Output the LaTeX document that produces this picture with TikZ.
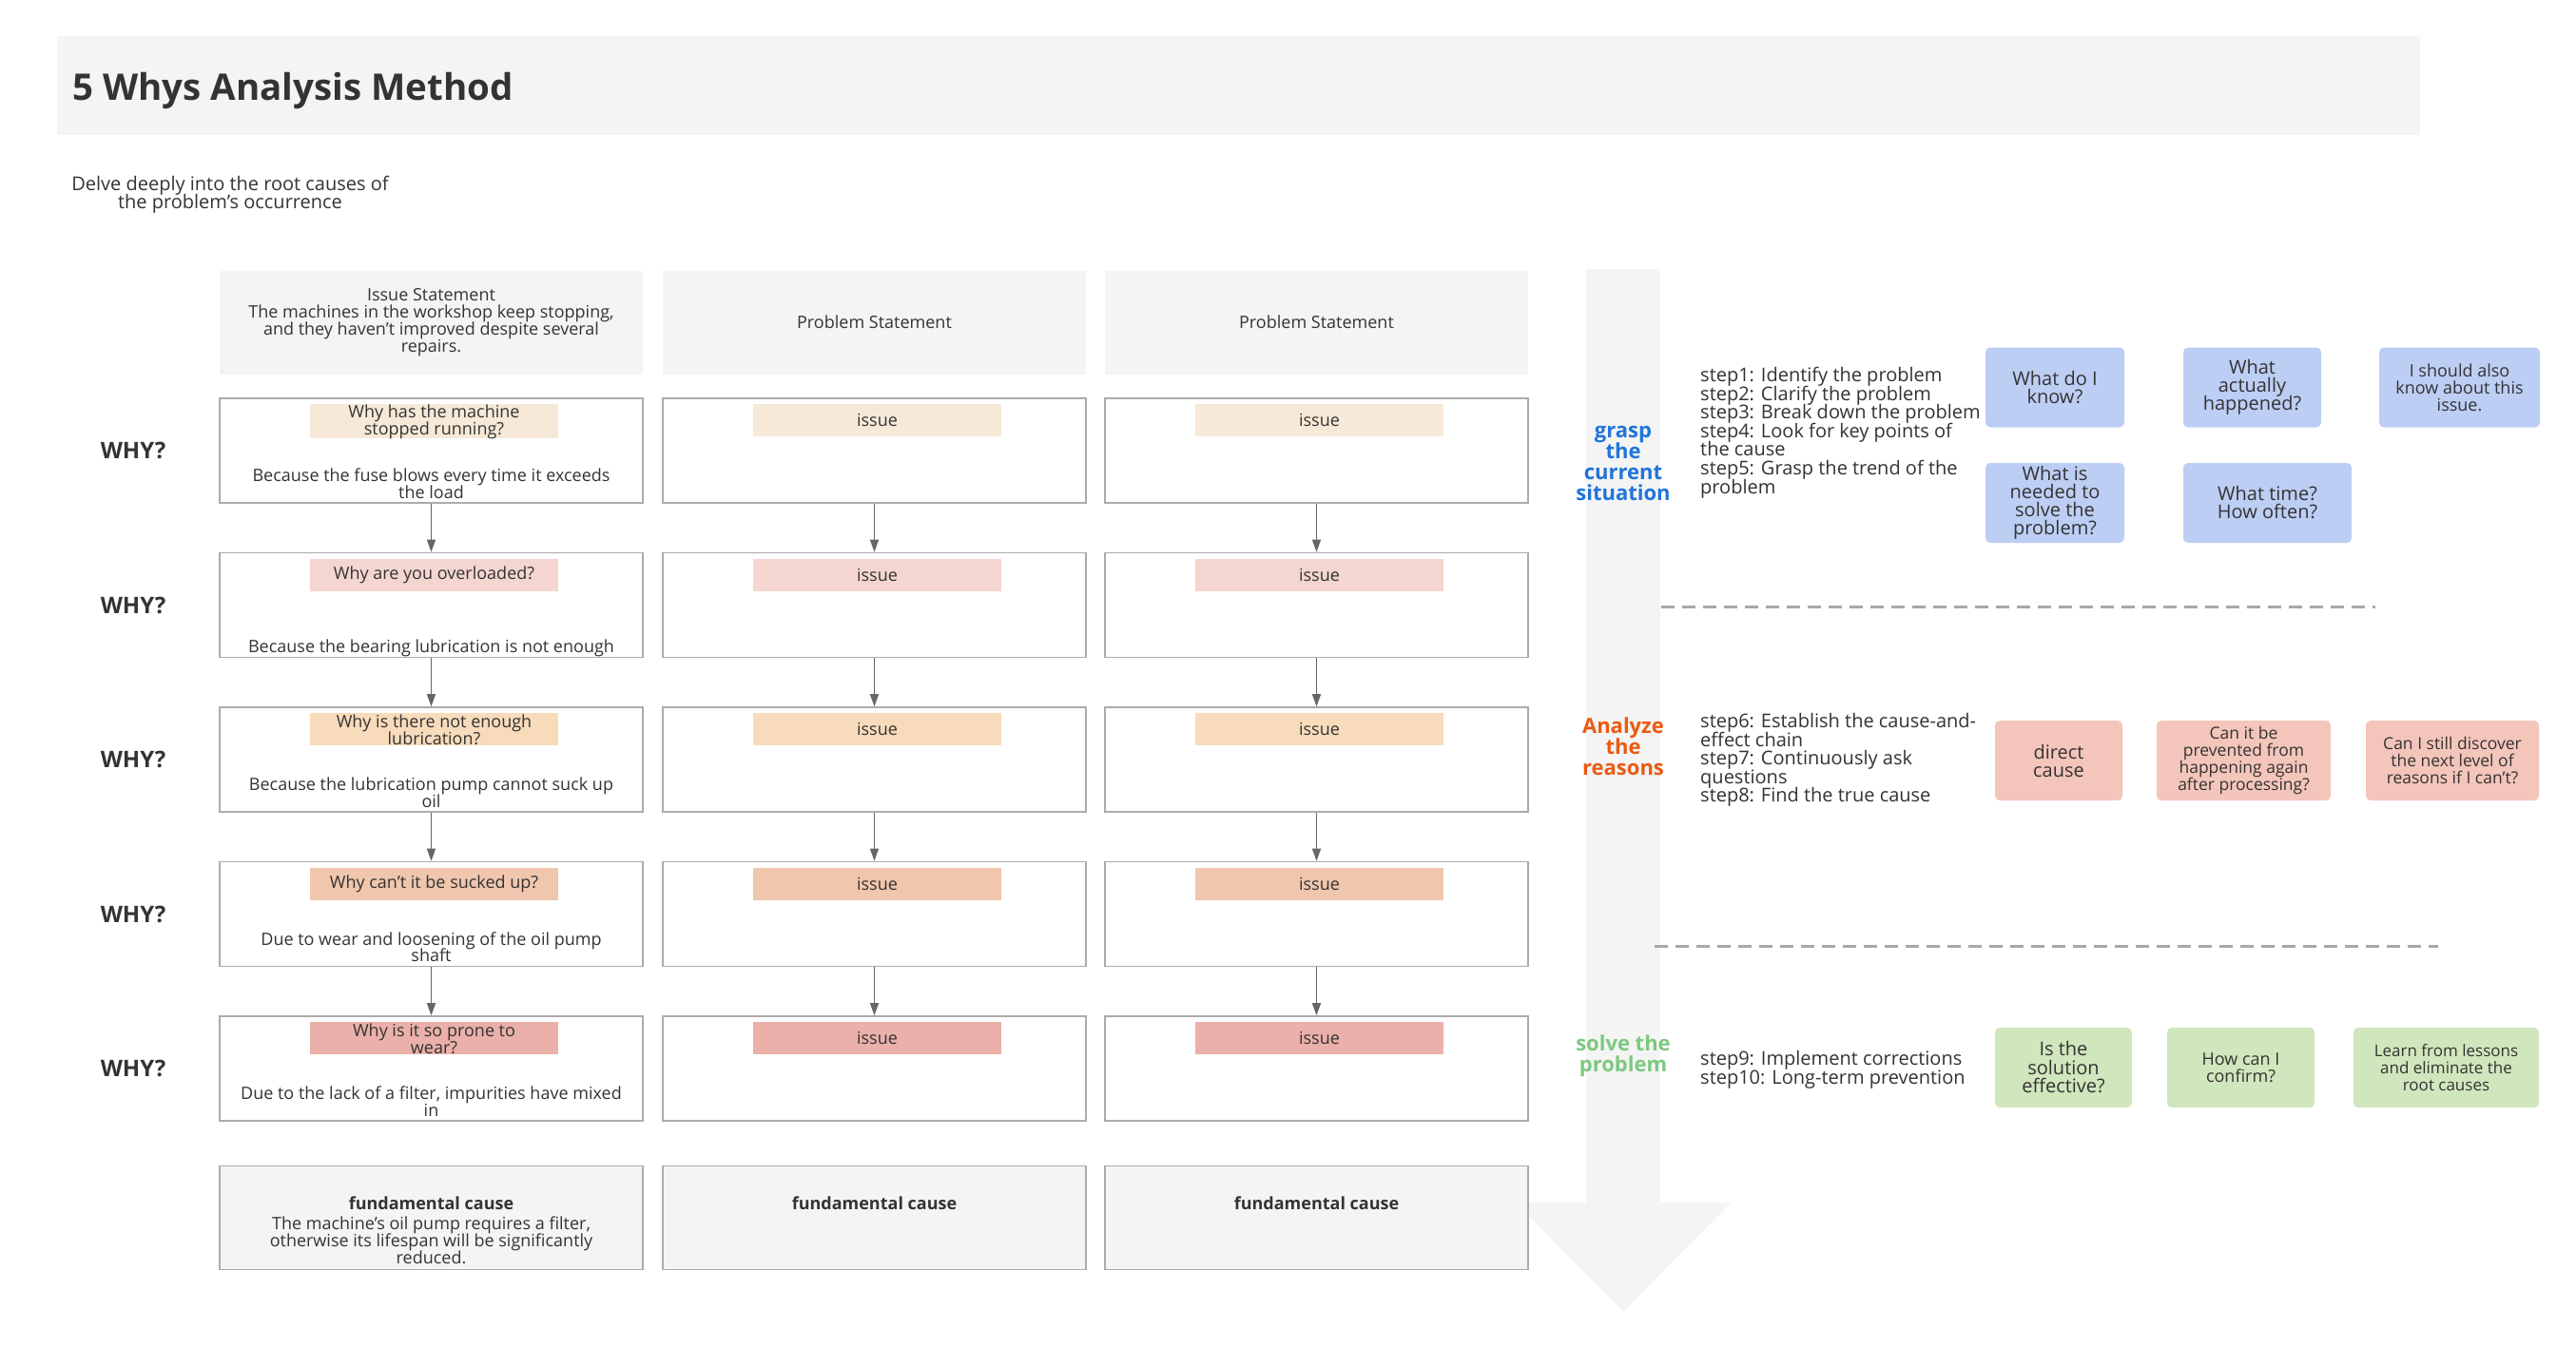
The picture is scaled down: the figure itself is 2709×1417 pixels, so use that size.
\documentclass[tikz,border=0pt]{standalone}
\usepackage{fontspec}
\setmainfont{Open Sans}
\usetikzlibrary{arrows.meta}

\definecolor{ink}{HTML}{333333}
\definecolor{panel}{HTML}{F4F4F4}
\definecolor{boxline}{HTML}{ABABAB}
\definecolor{flowgray}{HTML}{666666}
\definecolor{sepgray}{HTML}{A8A8A8}
\definecolor{tagA}{HTML}{F7E9D7}
\definecolor{tagB}{HTML}{F4D5CF}
\definecolor{tagC}{HTML}{F8DBBB}
\definecolor{tagD}{HTML}{F0C6AD}
\definecolor{tagE}{HTML}{EAB0A9}
\definecolor{askblue}{HTML}{BDCEF4}
\definecolor{askred}{HTML}{F4C5BA}
\definecolor{askgreen}{HTML}{D0E6BC}
\definecolor{phblue}{HTML}{1F74DB}
\definecolor{phorange}{HTML}{EB5A12}
\definecolor{phgreen}{HTML}{7DC87F}

\newcommand{\pxfont}[2]{\fontsize{#1pt}{#2pt}\selectfont\lineskiplimit=-100pt\relax}

\tikzset{
  head/.style={fill=panel, minimum width=445pt, minimum height=109pt, inner sep=0pt, align=center, text=ink, font=\pxfont{18}{18}},
  whybox/.style={draw=boxline, line width=1.6pt, fill=white, minimum width=445pt, minimum height=110pt, inner sep=0pt},
  rootbox/.style={whybox, fill=panel, minimum height=109pt},
  rootnote/.style={anchor=north, inner sep=0pt, align=center, text=ink, font=\pxfont{18}{18}},
  tag/.style={anchor=north, minimum width=261pt, minimum height=34pt, inner sep=0pt, align=center, text=ink, font=\pxfont{18}{18}},
  ans/.style={anchor=south, inner sep=0pt, align=center, text=ink, font=\pxfont{18}{17.5}},
  whytxt/.style={inner sep=0pt, text=ink, font=\bfseries\pxfont{24}{24}},
  stage/.style={inner sep=0pt, align=center, font=\bfseries\pxfont{22}{22}},
  steplist/.style={anchor=north west, inner sep=0pt, align=left, text=ink, font=\pxfont{20}{19.6}},
  ask/.style={rounded corners=5pt, minimum height=84pt, inner sep=0pt, align=center, text=ink, font=\pxfont{20}{19}},
  flow/.style={draw=flowgray, line width=1.4pt, -{Triangle[length=13pt,width=9pt]}},
  divider/.style={draw=sepgray, line width=3pt, dash pattern=on 14pt off 8pt},
}

\begin{document}
\begin{tikzpicture}[x=1pt, y=-1pt]
\fill[white] (0,0) rectangle (2709,1417);

% title band
\node[fill=panel, minimum width=2485pt, minimum height=104pt, inner sep=0pt, anchor=north west] (bar) at (60,38) {};
\node[anchor=west, inner sep=0pt, text=ink, font=\bfseries\pxfont{38.5}{38}] (title) at (76,95) {5 Whys Analysis Method};
\node[align=center, inner sep=0pt, text=ink, font=\pxfont{20}{19}] (sub) at (242,205) {Delve deeply into the root causes of\\the problem's occurrence};

% big arrow behind the stages
\fill[panel] (1668,283) rectangle (1746,1266);
\fill[panel] (1594,1265) -- (1820,1265) -- (1707,1380) -- cycle;

% column heads
\node[head] (h1) at (453.5,339.5) {Issue Statement\\The machines in the workshop keep stopping,\\and they haven't improved despite several\\repairs.};
\node[head] (h2) at (919.5,339) {Problem Statement};
\node[head] (h3) at (1384.5,339) {Problem Statement};

% why rows
\node[whytxt] (w1) at (140,474) {WHY?};
\node[whytxt] (w2) at (140,636.5) {WHY?};
\node[whytxt] (w3) at (140,799) {WHY?};
\node[whytxt] (w4) at (140,961.5) {WHY?};
\node[whytxt] (w5) at (140,1124) {WHY?};

\node[whybox] (b11) at (453.5,474) {};
\node[whybox] (b12) at (919.5,474) {};
\node[whybox] (b13) at (1384.5,474) {};
\node[whybox] (b21) at (453.5,636.5) {};
\node[whybox] (b22) at (919.5,636.5) {};
\node[whybox] (b23) at (1384.5,636.5) {};
\node[whybox] (b31) at (453.5,799) {};
\node[whybox] (b32) at (919.5,799) {};
\node[whybox] (b33) at (1384.5,799) {};
\node[whybox] (b41) at (453.5,961.5) {};
\node[whybox] (b42) at (919.5,961.5) {};
\node[whybox] (b43) at (1384.5,961.5) {};
\node[whybox] (b51) at (453.5,1124) {};
\node[whybox] (b52) at (919.5,1124) {};
\node[whybox] (b53) at (1384.5,1124) {};

% questions
\node[tag, fill=tagA] (t11) at ([xshift=3pt,yshift=-7pt]b11.north) {Why has the machine\\stopped running?};
\node[tag, fill=tagA] (t12) at ([xshift=3pt,yshift=-7pt]b12.north) {issue};
\node[tag, fill=tagA] (t13) at ([xshift=3pt,yshift=-7pt]b13.north) {issue};
\node[tag, fill=tagB] (t21) at ([xshift=3pt,yshift=-7pt]b21.north) {Why are you overloaded?};
\node[tag, fill=tagB] (t22) at ([xshift=3pt,yshift=-7pt]b22.north) {issue};
\node[tag, fill=tagB] (t23) at ([xshift=3pt,yshift=-7pt]b23.north) {issue};
\node[tag, fill=tagC] (t31) at ([xshift=3pt,yshift=-7pt]b31.north) {Why is there not enough\\lubrication?};
\node[tag, fill=tagC] (t32) at ([xshift=3pt,yshift=-7pt]b32.north) {issue};
\node[tag, fill=tagC] (t33) at ([xshift=3pt,yshift=-7pt]b33.north) {issue};
\node[tag, fill=tagD] (t41) at ([xshift=3pt,yshift=-7pt]b41.north) {Why can't it be sucked up?};
\node[tag, fill=tagD] (t42) at ([xshift=3pt,yshift=-7pt]b42.north) {issue};
\node[tag, fill=tagD] (t43) at ([xshift=3pt,yshift=-7pt]b43.north) {issue};
\node[tag, fill=tagE] (t51) at ([xshift=3pt,yshift=-7pt]b51.north) {Why is it so prone to\\wear?};
\node[tag, fill=tagE] (t52) at ([xshift=3pt,yshift=-7pt]b52.north) {issue};
\node[tag, fill=tagE] (t53) at ([xshift=3pt,yshift=-7pt]b53.north) {issue};

% answers
\node[ans] (a1) at (b11.south) {Because the fuse blows every time it exceeds\\the load\strut};
\node[ans] (a2) at (b21.south) {Because the bearing lubrication is not enough\strut};
\node[ans] (a3) at (b31.south) {Because the lubrication pump cannot suck up\\oil\strut};
\node[ans] (a4) at (b41.south) {Due to wear and loosening of the oil pump\\shaft\strut};
\node[ans] (a5) at (b51.south) {Due to the lack of a filter, impurities have mixed\\in\strut};

\draw[flow] (b11) -- (b21);
\draw[flow] (b21) -- (b31);
\draw[flow] (b31) -- (b41);
\draw[flow] (b41) -- (b51);
\draw[flow] (b12) -- (b22);
\draw[flow] (b22) -- (b32);
\draw[flow] (b32) -- (b42);
\draw[flow] (b42) -- (b52);
\draw[flow] (b13) -- (b23);
\draw[flow] (b23) -- (b33);
\draw[flow] (b33) -- (b43);
\draw[flow] (b43) -- (b53);

% root causes
\node[rootbox] (r1) at (453.5,1281) {};
\node[rootbox] (r2) at (919.5,1281) {};
\node[rootbox] (r3) at (1384.5,1281) {};
\node[rootnote] (r1txt) at (453.5,1259) {\textbf{fundamental cause}\\[3pt]The machine's oil pump requires a filter,\\otherwise its lifespan will be significantly\\reduced.};
\node[rootnote] (r2txt) at (919.5,1259) {\textbf{fundamental cause}};
\node[rootnote] (r3txt) at (1384.5,1259) {\textbf{fundamental cause}};

% stages
\node[stage, text=phblue] (g1) at (1707,487) {grasp\\the\\current\\situation};
\node[stage, text=phorange] (g2) at (1707,785) {Analyze\\the\\reasons};
\node[stage, text=phgreen] (g3) at (1707,1111) {solve the\\problem};

\node[steplist] (s1) at (1788,386) {step1: Identify the problem\\step2: Clarify the problem\\step3: Break down the problem\\step4: Look for key points of\\the cause\\step5: Grasp the trend of the\\problem};
\node[steplist] (s2) at (1788,750) {step6: Establish the cause-and-\\effect chain\\step7: Continuously ask\\questions\\step8: Find the true cause};
\node[steplist] (s3) at (1788,1105) {step9: Implement corrections\\step10: Long-term prevention};

\draw[divider] (1747,638) -- (2498,638);
\draw[divider] (1740,995) -- (2564,995);

% question cards
\node[ask, fill=askblue, minimum width=146pt] (q1) at (2161,407.5) {What do I\\know?};
\node[ask, fill=askblue, minimum width=145pt] (q2) at (2368.5,407.5) {What\\actually\\happened?};
\node[ask, fill=askblue, minimum width=169pt, font=\pxfont{18}{18}] (q3) at (2586.5,407.5) {I should also\\know about this\\issue.};
\node[ask, fill=askblue, minimum width=146pt] (q4) at (2161,529) {What is\\needed to\\solve the\\problem?};
\node[ask, fill=askblue, minimum width=177pt] (q5) at (2384.5,529) {What time?\\How often?};

\node[ask, fill=askred, minimum width=134pt] (q6) at (2165,800) {direct\\cause};
\node[ask, fill=askred, minimum width=183pt, font=\pxfont{17.5}{18}] (q7) at (2359.5,800) {Can it be\\prevented from\\happening again\\after processing?};
\node[ask, fill=askred, minimum width=182pt, font=\pxfont{17.5}{18}] (q8) at (2579,800) {Can I still discover\\the next level of\\reasons if I can't?};

\node[ask, fill=askgreen, minimum width=144pt, font=\pxfont{20}{19.5}] (q9) at (2170,1123) {Is the\\solution\\effective?};
\node[ask, fill=askgreen, minimum width=155pt, font=\pxfont{18}{18}] (q10) at (2356.5,1123) {How can I\\confirm?};
\node[ask, fill=askgreen, minimum width=195pt, font=\pxfont{17}{18}] (q11) at (2572.5,1123) {Learn from lessons\\and eliminate the\\root causes};
\end{tikzpicture}
\end{document}
